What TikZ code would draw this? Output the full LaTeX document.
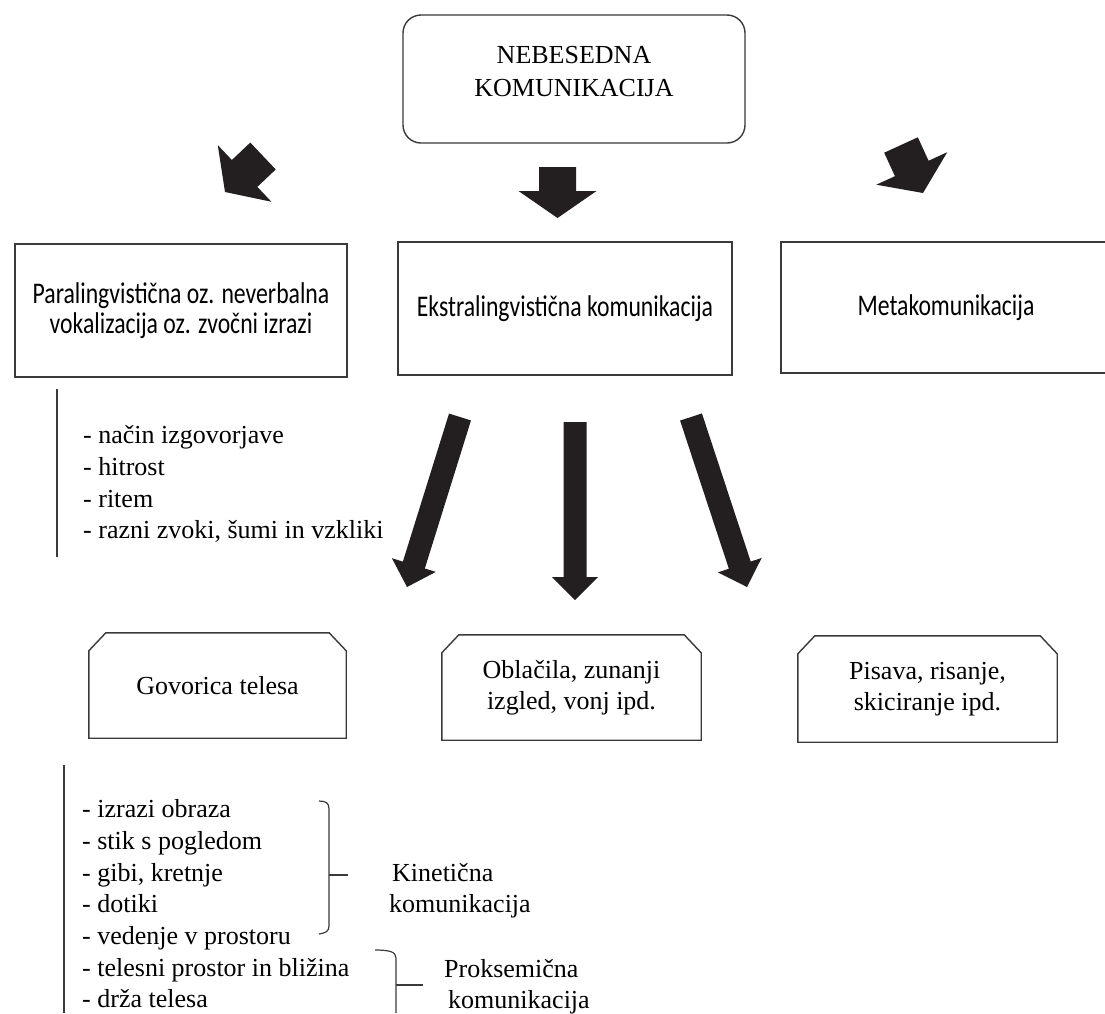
\documentclass[tikz,border=0pt]{standalone}
\usepackage{fontspec}
\setmainfont{Liberation Serif}
\newfontfamily\boxfont[FakeStretch=0.79]{Carlito}
\usetikzlibrary{calc}

\definecolor{boxgray}{HTML}{3A3A3A}
\definecolor{arrowblack}{HTML}{231F20}

% start, tip, half shaft width, half head width, head length
\newcommand{\blockarrow}[5]{%
  \coordinate (ba-base) at ($(#2)!#5!(#1)$);
  \fill[arrowfill] ($(#1)!#3!90:(#2)$) -- ($(ba-base)!#3!90:(#2)$) -- ($(ba-base)!#4!90:(#2)$) -- (#2)
    -- ($(ba-base)!#4!-90:(#2)$) -- ($(ba-base)!#3!-90:(#2)$) -- ($(#1)!#3!-90:(#2)$) -- cycle;
}

\begin{document}
\begin{tikzpicture}[x=1pt, y=-1pt,
    box/.style={draw=boxgray, line width=1.4pt, inner sep=0pt},
    sanstext/.style={font=\boxfont\fontsize{30}{30}\selectfont, align=center},
    serftext/.style={font=\fontsize{26}{31}\selectfont, align=center},
    listitem/.style={font=\fontsize{26}{31}\selectfont, anchor=base west, inner sep=0pt},
    rule/.style={draw=boxgray, line width=1.2pt},
    arrowfill/.style={fill=arrowblack}]
    \clip (0,0) rectangle (1105,1013);
    \fill[white] (0,0) rectangle (1105,1013);

    % top
    \node[box, rounded corners=18pt, minimum width=342pt, minimum height=128pt] (nebesedna) at (574,79) {};
    \node[serftext, font=\fontsize{26}{33}\selectfont] (nebesedna-txt) at ([yshift=7pt]nebesedna.center) {NEBESEDNA\\KOMUNIKACIJA};

    \coordinate (top-l-s) at (263,156); \coordinate (top-l-t) at (225,192);
    \coordinate (top-m-s) at (557.5,167); \coordinate (top-m-t) at (557.5,218);
    \coordinate (top-r-s) at (901,145); \coordinate (top-r-t) at (923,193);
    \blockarrow{top-l-s}{top-l-t}{18.5pt}{39pt}{27pt}
    \blockarrow{top-m-s}{top-m-t}{18.5pt}{39pt}{27pt}
    \blockarrow{top-r-s}{top-r-t}{18.5pt}{39pt}{27pt}

    % middle row
    \node[box, sanstext, minimum width=332pt, minimum height=133pt] (para) at (181,310.5) {Paralingvistična oz. neverbalna\\vokalizacija oz. zvočni izrazi};
    \node[box, sanstext, minimum width=334pt, minimum height=133pt] (ekstra) at (565,308.5) {Ekstralingvistična komunikacija};
    \node[box, sanstext, minimum width=330pt, minimum height=131pt] (meta) at (946,307.5) {Metakomunikacija};

    \draw[rule] (57,389) -- (57,557);
    \foreach \entry [count=\i] in {- način izgovorjave, - hitrost, - ritem, {- razni zvoki, šumi in vzkliki}}
        \node[listitem] (para-\i) at (83, {443.6+31.7*(\i-1)}) {\entry};

    \coordinate (low-l-s) at (460,417); \coordinate (low-l-t) at (407,587);
    \coordinate (low-m-s) at (575,422); \coordinate (low-m-t) at (575,600);
    \coordinate (low-r-s) at (691,417); \coordinate (low-r-t) at (747,587);
    \blockarrow{low-l-s}{low-l-t}{11.5pt}{23pt}{23pt}
    \blockarrow{low-m-s}{low-m-t}{11.5pt}{23pt}{23pt}
    \blockarrow{low-r-s}{low-r-t}{11.5pt}{23pt}{23pt}

    % bottom row
    \node[serftext, minimum width=257pt, minimum height=105pt] (govorica) at (217.5,685.5) {Govorica telesa};
    \node[serftext, minimum width=259pt, minimum height=105pt] (oblacila) at (571.5,687.5) {Oblačila, zunanji\\izgled, vonj ipd.};
    \node[serftext, minimum width=259pt, minimum height=106pt] (pisava) at (927.5,689) {Pisava, risanje,\\skiciranje ipd.};
    \foreach \b in {govorica, oblacila, pisava}
        \draw[box] (\b.south west) -- ([yshift=-18pt]\b.north west) -- ([xshift=17pt]\b.north west)
            -- ([xshift=-17pt]\b.north east) -- ([yshift=-18pt]\b.north east) -- (\b.south east) -- cycle;

    \draw[rule] (64,765) -- (64,1013);
    \foreach \entry [count=\i] in {- izrazi obraza, - stik s pogledom, {- gibi, kretnje}, - dotiki,
            - vedenje v prostoru, - telesni prostor in bližina, - drža telesa}
        \node[listitem] (gov-\i) at (82, {817.6+31.7*(\i-1)}) {\entry};

    % brackets
    \draw[rule] (319,801) .. controls (326,801) and (329,803) .. (329,809) -- (329,926)
        .. controls (329,931) and (326,933) .. (319,934);
    \draw[rule] (329,875) -- (348,875);
    \node[listitem] (kin-1) at (392,881) {Kinetična};
    \node[listitem] (kin-2) at (389,912.7) {komunikacija};

    \draw[rule] (375,950) .. controls (390,950) and (396,952) .. (396,958) -- (396,1013);
    \draw[rule] (396,985) -- (423,985);
    \node[listitem] (prok-1) at (444,977) {Proksemična};
    \node[listitem] (prok-2) at (448,1008) {komunikacija};
\end{tikzpicture}
\end{document}
